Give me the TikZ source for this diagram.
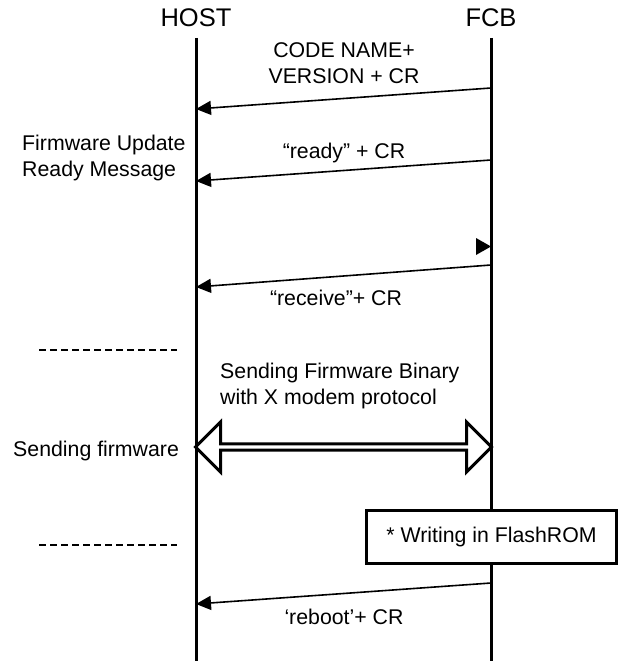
\documentclass[tikz,border=0pt]{standalone}
\usepackage{fontspec}
\setmainfont{Liberation Sans}
\usetikzlibrary{arrows.meta,shapes.arrows}

\tikzset{
  lifeline/.style={line width=3pt},
  msg/.style={line width=1.6pt,-{Triangle[length=15pt,width=14pt]}},
  lbl/.style={font=\fontsize{21.3}{26}\selectfont},
  sep/.style={line width=1.4pt,dash pattern=on 7pt off 4pt}
}

\begin{document}
\begin{tikzpicture}[x=1pt,y=-1pt]
%\draw[help lines] (0,0) grid (621,661);
\path[use as bounding box] (0,0) rectangle (621,661);
% heads
\node (host) [font=\fontsize{25.5}{28}\selectfont] at (196,18) {HOST};
\node (fcb) [font=\fontsize{25.5}{28}\selectfont] at (491,18) {FCB};
\coordinate (hosttop) at (196,38);
\coordinate (hostbot) at (196,661);
\coordinate (fcbtop) at (491,38);
\coordinate (fcbbot) at (491,661);
\path[lifeline]
(hosttop) edge (hostbot)
(fcbtop) edge (fcbbot);
% messages
\coordinate (codeA) at (491,88);
\coordinate (codeB) at (196,109);
\coordinate (readyA) at (491,160);
\coordinate (readyB) at (196,181);
\coordinate (recvA) at (491,265);
\coordinate (recvB) at (196,287);
\coordinate (rebootA) at (491,583);
\coordinate (rebootB) at (196,604);
\path[msg]
(codeA) edge (codeB)
(readyA) edge (readyB)
(recvA) edge (recvB)
(rebootA) edge (rebootB);
\node (codetxt) [lbl,align=center] at (344,63) {CODE NAME+\\VERSION + CR};
\node (readytxt) [lbl] at (344,153) {“ready” + CR};
\node (recvtxt) [lbl] at (336,298) {“receive”+ CR};
\node (reboottxt) [lbl] at (344,617) {‘reboot’+ CR};
\node (fwready) [lbl,align=left,anchor=west,inner sep=0pt] at (22,158) {Firmware Update\\Ready Message};
% small tip on FCB
\fill (476,238) -- (491,246.5) -- (476,255) -- cycle;
% separators
\coordinate (sepA1) at (39,350);
\coordinate (sepA2) at (177,350);
\coordinate (sepB1) at (39,545);
\coordinate (sepB2) at (177,545);
\path[sep]
(sepA1) edge (sepA2)
(sepB1) edge (sepB2);
% xmodem transfer
\node (bintxt) [lbl,align=left,anchor=west,inner sep=0pt] at (220,386) {Sending Firmware Binary\\with X modem protocol};
\node (xfer) [double arrow,draw,line width=3pt,minimum width=50pt,minimum height=296pt,
  double arrow head extend=10.5pt,double arrow head indent=0pt,inner sep=0pt] at (343.5,447) {};
\node (sendfw) [lbl,anchor=west,inner sep=0pt] at (13,451) {Sending firmware};
% flash box
\node (flash) [lbl,draw,fill=white,line width=3pt,minimum width=250pt,minimum height=53pt] at (491.5,537) {* Writing in FlashROM};
\end{tikzpicture}
\end{document}
